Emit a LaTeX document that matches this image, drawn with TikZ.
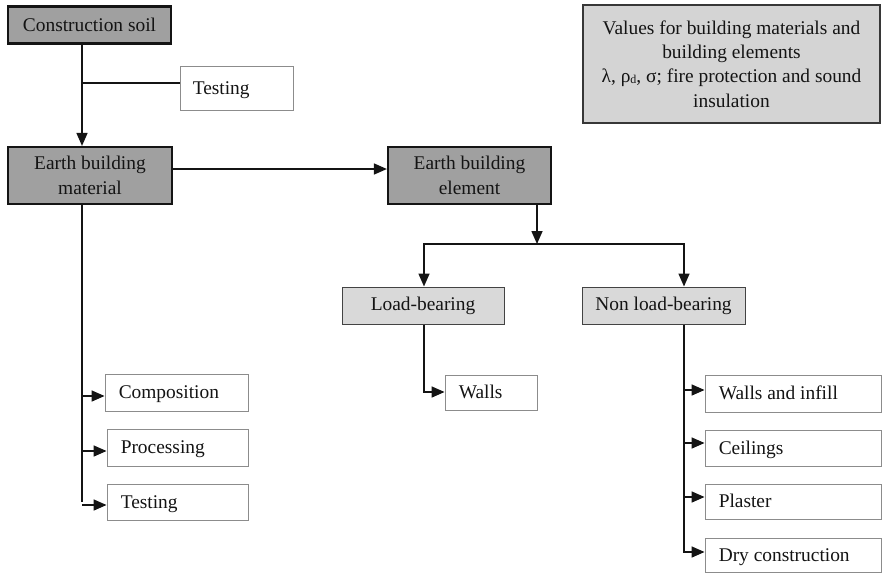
\documentclass[tikz,border=0pt]{standalone}
\usepackage{fontspec}
\setmainfont{Liberation Serif}
\usetikzlibrary{arrows.meta}
\definecolor{darkfill}{HTML}{A0A0A0}
\definecolor{lightfill}{HTML}{D9D9D9}
\definecolor{valfill}{HTML}{D4D4D4}
\definecolor{thinedge}{HTML}{8C8C8C}
\definecolor{ink}{HTML}{141414}
\begin{document}
\begin{tikzpicture}[x=1pt,y=-1pt,
  every node/.style={font=\fontsize{19.4}{24.3}\selectfont, text=ink, inner sep=0pt},
  darkbox/.style={draw=ink, line width=2.2pt, fill=darkfill, align=center, minimum width=#1},
  lightbox/.style={draw=ink!80, line width=1pt, fill=lightfill, align=center, minimum width=162pt, minimum height=37pt},
  plainbox/.style={draw=thinedge, line width=0.9pt, fill=white},
  boxlabel/.style={anchor=base west},
  valbox/.style={draw=ink!85, line width=2pt, fill=valfill, align=center, minimum width=297pt, minimum height=118pt},
  conn/.style={draw=ink, line width=1.6pt},
  arr/.style={conn, -{Triangle[length=13pt,width=11pt]}}]
\useasboundingbox (0,0) rectangle (886,574);

% main chain
\node[darkbox=163pt, minimum height=37pt] (soil) at (89.5,25) {Construction soil};
\node[darkbox=164pt, minimum height=57pt] (material) at (90,175.5) {Earth building\\material};
\node[darkbox=163pt, minimum height=57pt] (element) at (469.5,175.5) {Earth building\\element};
\node[valbox] (values) at (731.5,64) {Values for building materials and\\building elements\\%
  λ, ρ\raisebox{-1pt}{\fontsize{12}{12}\selectfont d}, σ; fire protection and sound\\insulation};

% white boxes, text set from the left edge
\node[plainbox, minimum width=113pt, minimum height=44pt] (testtop) at (236.5,88) {};
\node[boxlabel] at ([xshift=13pt,yshift=-6pt]testtop.west) {Testing};

\node[plainbox, minimum width=143pt, minimum height=37pt] (comp) at (176.5,392.5) {};
\node[boxlabel] at ([xshift=14pt,yshift=-6pt]comp.west) {Composition};
\node[plainbox, minimum width=141pt, minimum height=37pt] (proc) at (177.5,447.5) {};
\node[boxlabel] at ([xshift=14pt,yshift=-6pt]proc.west) {Processing};
\node[plainbox, minimum width=141pt, minimum height=36pt] (testlow) at (177.5,502) {};
\node[boxlabel] at ([xshift=14pt,yshift=-6pt]testlow.west) {Testing};

% element branches
\node[lightbox] (load) at (423,305.5) {Load-bearing};
\node[lightbox, minimum width=163pt] (nonload) at (663.5,305.5) {Non load-bearing};

\node[plainbox, minimum width=92pt, minimum height=35pt] (walls) at (491,392.5) {};
\node[boxlabel] at ([xshift=14pt,yshift=-6pt]walls.west) {Walls};

\node[plainbox, minimum width=176pt, minimum height=37pt] (infill) at (793,393.5) {};
\node[boxlabel] at ([xshift=14pt,yshift=-6pt]infill.west) {Walls and infill};
\node[plainbox, minimum width=176pt, minimum height=36pt] (ceil) at (793,448) {};
\node[boxlabel] at ([xshift=14pt,yshift=-6pt]ceil.west) {Ceilings};
\node[plainbox, minimum width=176pt, minimum height=35pt] (plaster) at (793,501.5) {};
\node[boxlabel] at ([xshift=14pt,yshift=-6pt]plaster.west) {Plaster};
\node[plainbox, minimum width=176pt, minimum height=34pt] (dry) at (793,555) {};
\node[boxlabel] at ([xshift=14pt,yshift=-6pt]dry.west) {Dry construction};

% junction points
\coordinate (sj) at (82,83);
\coordinate (mj) at (0,169);
\coordinate (ej) at (537,244);
\coordinate (lx) at (424,0);
\coordinate (nx) at (684,0);
\coordinate (lw) at (0,392);
\coordinate (c1) at (82,396);
\coordinate (c2) at (82,451);
\coordinate (c3) at (82,505);
\coordinate (r1) at (684,390);
\coordinate (r2) at (684,443);
\coordinate (r3) at (684,497);
\coordinate (r4) at (684,552);

% connectors
\draw[arr] (soil.south -| sj) -- (material.north -| sj);
\draw[conn] (sj) -- (testtop.west |- sj);
\draw[arr] (material.east |- mj) -- (element.west |- mj);
\draw[arr] (element.south -| ej) -- (ej);
\draw[conn] ([xshift=-0.8pt]ej -| lx) -- ([xshift=0.8pt]ej -| nx);
\draw[arr] (ej -| lx) -- (load.north -| lx);
\draw[arr] (ej -| nx) -- (nonload.north -| nx);

\draw[conn] (load.south -| lx) -- (lx |- lw);
\draw[arr] ([xshift=-0.8pt]lx |- lw) -- (walls.west |- lw);

\draw[conn] (material.south -| c1) -- ([yshift=3pt]c3);
\draw[arr] (c1) -- (comp.west |- c1);
\draw[arr] (c2) -- (proc.west |- c2);
\draw[arr] (c3) -- (testlow.west |- c3);

\draw[conn] (nonload.south -| nx) -- (r4);
\draw[arr] (r1) -- (infill.west |- r1);
\draw[arr] (r2) -- (ceil.west |- r2);
\draw[arr] (r3) -- (plaster.west |- r3);
\draw[arr] ([xshift=-0.8pt]r4) -- (dry.west |- r4);
\end{tikzpicture}
\end{document}
